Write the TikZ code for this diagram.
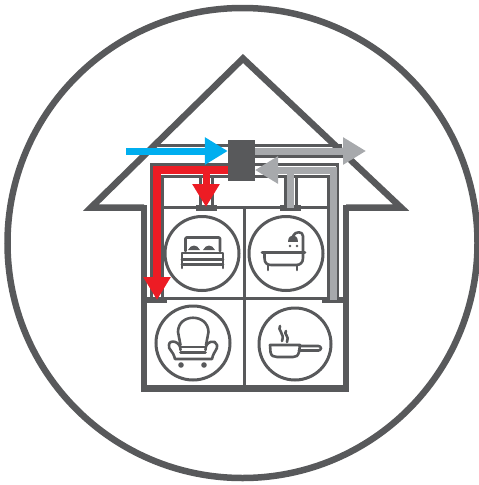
\documentclass[tikz,border=0pt]{standalone}
\usepackage{xcolor}
\usetikzlibrary{arrows.meta, positioning}
\definecolor{WallGrey} {RGB}{88, 89, 91}
\definecolor{StaleGrey}{RGB}{167, 169, 172}
\definecolor{SupplyRed}{RGB}{237, 28, 36}
\definecolor{IntakeBlue}{RGB}{0, 174, 239}

\begin{document}
\begin{tikzpicture}[
    x=1pt, y=-1pt,
    wall/.style={draw=WallGrey, line width=6.5pt, miter limit=10},
    thin wall/.style={draw=WallGrey, line width=3pt},
    sleeve/.style={fill=WallGrey},
    room/.style={draw=WallGrey, line width=3pt, circle, minimum size=74pt, inner sep=0pt},
    icon/.style={draw=WallGrey, line width=2.6pt, line cap=round, line join=round},
    flow/.style={line width=7pt, -{Triangle[length=23pt, width=26pt]}},
    duct/.style={line width=7pt}
]
    \useasboundingbox (0,0) rectangle (479,485);

    % Nodes
    \node[draw=WallGrey, line width=6.5pt, circle, minimum size=470pt, inner sep=0pt] (frame) at (242.5,243) {};
    \node[fill=WallGrey, minimum width=27pt, minimum height=41pt, inner sep=0pt] (unit) at (241.5,160.5) {};

    \node[room] (bedroom) at (202,253.5) {};
    \node[room] (bathroom) at (286,253.5) {};
    \node[room] (lounge) at (193,343) {};
    \node[room, minimum size=72pt] (kitchen) at (295,344) {};

    \coordinate (intake) at (126,151);
    \coordinate (exhaust) at (366,151);
    \coordinate (red corner) at (157,170);
    \coordinate (red end) at (157,300);
    \coordinate (red branch) at (206,170);
    \coordinate (red drop) at (206,207);
    \coordinate (grey corner) at (333,170);
    \coordinate (grey start) at (333,300);
    \coordinate (grey branch) at (290.5,170);
    \coordinate (grey rise) at (290.5,208);
    \coordinate (grey tip) at (255,170);

    % House shell
    \draw[wall] (144,207.5) -- (91,207.5) -- (243,58.5) -- (401,207.5) -- (346,207.5);
    \draw[wall] (144,205) -- (144,388.5) -- (346,388.5) -- (346,205);
    \draw[thin wall] (147,298.5) -- (343,298.5);
    \draw[thin wall] (162,207) -- (328,207);
    \draw[thin wall] (244,207) -- (244,386);

    % Duct outlines
    \draw[thin wall] (151.5,298) -- (151.5,164.5) -- (337.5,164.5) -- (337.5,298);
    \draw[thin wall] (162,298) -- (162,176.5) -- (328,176.5) -- (328,298);
    \draw[thin wall] (200.5,176) -- (200.5,206) (212,176) -- (212,206);
    \draw[thin wall] (285.5,176) -- (285.5,206) (296,176) -- (296,206);
    \draw[thin wall] (158,145.5) -- (342,145.5);
    \draw[thin wall] (255,156) -- (350,156);

    \fill[sleeve] (196,205) rectangle (217,211);
    \fill[sleeve] (280,205) rectangle (301,211);
    \fill[sleeve] (147,296.5) rectangle (167,302.5);
    \fill[sleeve] (322,296.5) rectangle (346,302.5);

    % Edges
    \draw[flow, IntakeBlue] (intake) -- (intake -| unit.west);
    \draw[flow, StaleGrey] (intake -| unit.east) -- (exhaust);
    \draw[duct, StaleGrey] (grey branch) -- (grey rise);
    \draw[flow, StaleGrey] (grey start) -- (grey corner) -- (grey tip);
    \draw[flow, SupplyRed] (red branch) -- (red drop);
    \draw[flow, SupplyRed, line width=8pt] (red corner -| unit.west) -- (red corner) -- (red end);
    \fill[WallGrey] (unit.north west) rectangle (unit.south east);

    % Bed
    \draw[icon, rounded corners=1pt] (185.5,251) -- (185.5,237.5) -- (220,237.5) -- (220,251);
    \draw[icon] (182,268) -- (182,253) -- (223,253) -- (223,268);
    \draw[icon] (182,259.5) -- (223,259.5);
    \draw[icon] (182,264.5) -- (223,264.5);
    \fill[WallGrey] (188,250) .. controls (191,244) and (197,244) .. (200,250) -- cycle;
    \fill[WallGrey] (203,250) .. controls (206,244) and (212,244) .. (215,250) -- cycle;

    % Bath
    \draw[icon] (262,252.5) -- (305,252.5);
    \draw[icon] (264.5,253) -- (264.5,258) .. controls (264.5,263) and (267,265) .. (271,265) -- (296,265) .. controls (300,265) and (303,263) .. (303,258) -- (303,253);
    \draw[icon] (268,265) -- (268,270) (297,265) -- (297,270);
    \draw[icon] (303,252) -- (303,236) .. controls (303,231) and (295,231) .. (293,236);
    \fill[WallGrey] (288,241.5) .. controls (288,233) and (298,233) .. (298,241.5) -- cycle;
    \fill[WallGrey] (290,246) circle (1.4pt) (297,246) circle (1.4pt);

    % Armchair
    \draw[icon] (180.5,345) -- (178,332) .. controls (178,313) and (208,313) .. (208.5,332) -- (206,345);
    \draw[icon] (180.5,350) .. controls (181,341) and (169,339) .. (169,345) .. controls (168,350) and (173,350) .. (175,359) -- (212,359) .. controls (214,350) and (218,350) .. (217,345) .. controls (216,339) and (205,341) .. (205.5,350);
    \draw[icon] (180.5,347) -- (205.5,347) (180.5,352.5) -- (205.5,352.5);
    \draw[icon] (181,365) circle (1.8pt) (204,365) circle (1.8pt);

    % Pan
    \draw[icon] (270,345) -- (300,345) -- (299,352) .. controls (298,356) and (296,357) .. (293,357) -- (277,357) .. controls (274,357) and (271,356) .. (270.5,352) -- cycle;
    \draw[icon, rounded corners=2.5pt] (300,346) -- (321,346) -- (321,350.5) -- (299,350.5);
    \draw[icon] (280,326) .. controls (277,330) and (285,333) .. (282,341);
    \draw[icon] (286,331) .. controls (283,334) and (290,336) .. (287,342);

\end{tikzpicture}
\end{document}
